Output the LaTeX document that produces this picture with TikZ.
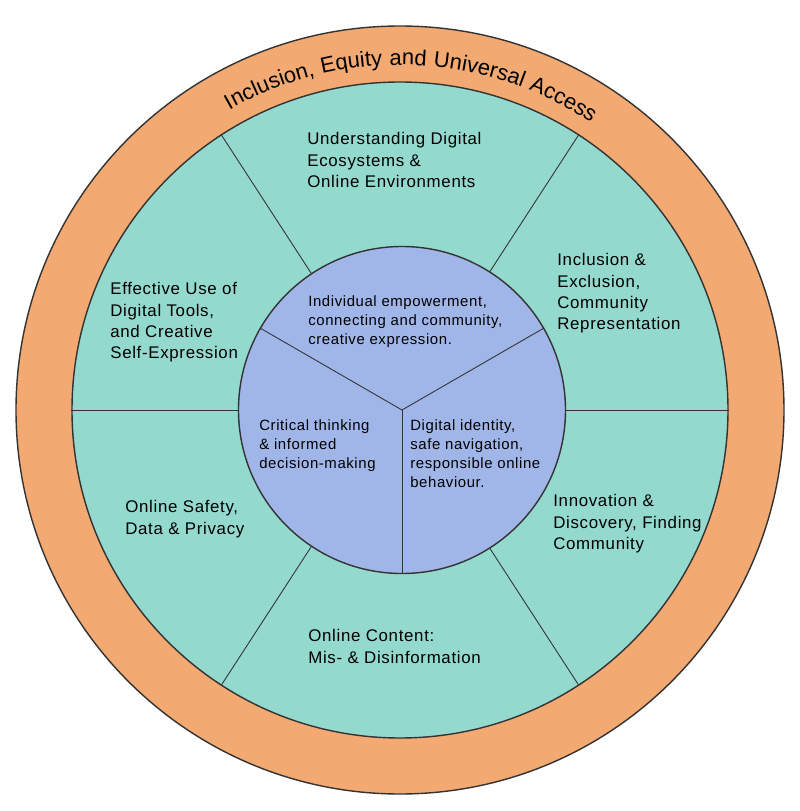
\documentclass[tikz,border=0pt]{standalone}
\usepackage{fontspec}
\setmainfont{Liberation Sans}[LetterSpace=4]
\usetikzlibrary{decorations.text}
\definecolor{ringorange}{HTML}{F3A972}
\definecolor{ringgreen}{HTML}{93D9CD}
\definecolor{coreblue}{HTML}{A0B6E8}
\definecolor{edgegray}{HTML}{333333}
\begin{document}
\begin{tikzpicture}[
    disc/.style={circle, inner sep=0pt, draw=edgegray, line width=0.8pt},
    spoke/.style={draw=edgegray, line width=0.5pt},
    label/.style={anchor=north west, inner sep=0pt, align=left, font=\fontsize{9.6}{12.2}\selectfont},
    inlabel/.style={anchor=north west, inner sep=0pt, align=left, font=\fontsize{8.5}{10.8}\selectfont}]
    \useasboundingbox (-8,-8.02) rectangle (8,8.2);

    % Vòng ngoài và vòng giữa
    \node[disc, fill=ringorange, minimum size=15.36cm] (rim) at (0,0) {};
    \node[disc, fill=ringgreen, minimum size=13.12cm] (wheel) at (0,0) {};
    \foreach \a in {0,57,123,180,237,303}
        \draw[spoke] (wheel.center) -- (wheel.\a);

    % Vòng trong chia ba phần
    \node[disc, fill=coreblue, minimum size=6.54cm] (core) at (0.04,0) {};
    \foreach \a in {30,150,270}
        \draw[spoke] (core.center) -- (core.\a);

    % Chữ cong trên vòng ngoài
    \path[decorate, decoration={text along path, text align=center,
        text={|\fontsize{12.5}{12.5}\selectfont|Inclusion, Equity and Universal Access}}]
        (148:6.9) arc[start angle=148, end angle=28, radius=6.9];

    % Các nhãn ở vòng giữa
    \node[label] (ecosys) at (-1.86,5.56) {Understanding Digital\\Ecosystems \&\\Online Environments};
    \node[label] (inclus) at (3.14,3.14) {Inclusion \&\\Exclusion,\\Community\\Representation};
    \node[label] (tools) at (-5.80,2.56) {Effective Use of\\Digital Tools,\\and Creative\\Self-Expression};
    \node[label] (safety) at (-5.50,-1.80) {Online Safety,\\Data \& Privacy};
    \node[label] (innov) at (3.06,-1.68) {Innovation \&\\Discovery, Finding\\Community};
    \node[label] (content) at (-1.84,-4.38) {Online Content:\\Mis- \& Disinformation};

    % Các nhãn ở vòng trong
    \node[inlabel] (empower) at (-1.84,2.30) {Individual empowerment,\\connecting and community,\\creative expression.};
    \node[inlabel] (critical) at (-2.82,-0.18) {Critical thinking\\\& informed\\decision-making};
    \node[inlabel] (identity) at (0.20,-0.18) {Digital identity,\\safe navigation,\\responsible online\\behaviour.};
\end{tikzpicture}
\end{document}
